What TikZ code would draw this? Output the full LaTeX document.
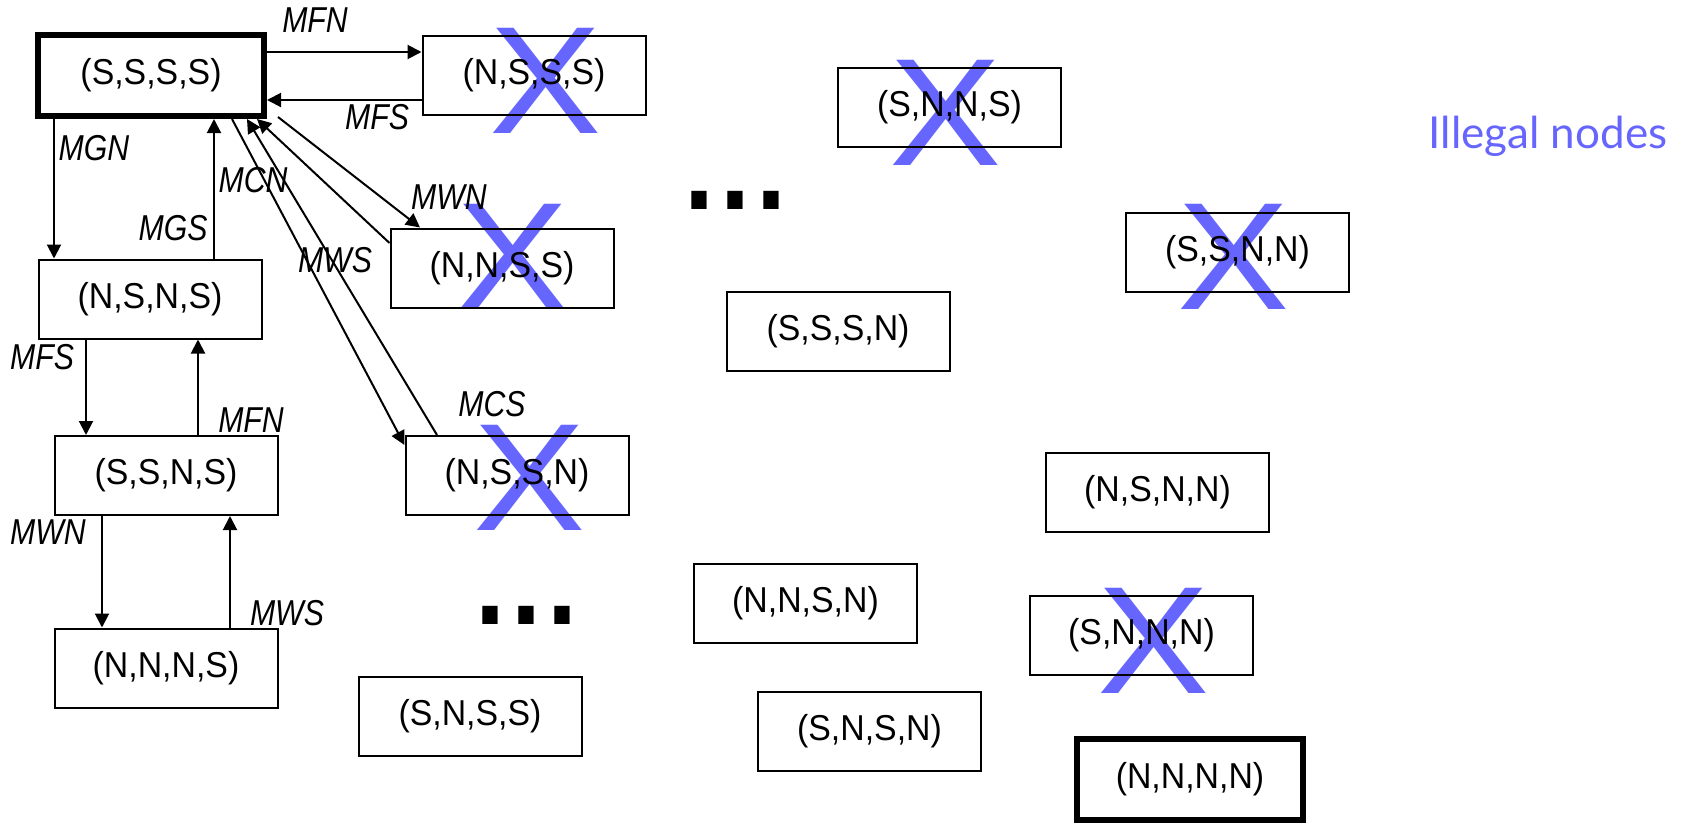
\documentclass[tikz,border=0pt]{standalone}
\usepackage{fontspec}
\usepackage{graphicx}
\usetikzlibrary{arrows.meta}
\newfontfamily\boxfont[FakeStretch=0.94]{Liberation Sans}
\newfontfamily\lblfont[FakeStretch=0.84]{Liberation Sans}
\newfontfamily\crossfont{Liberation Sans}
\newfontfamily\illfont{Lato}
\definecolor{xblue}{RGB}{102,102,255}
\tikzset{
  st/.style={draw, line width=2pt, minimum width=223pt, minimum height=79pt, inner sep=0pt,
    font=\boxfont\fontsize{36}{40}\selectfont},
  stthick/.style={st, line width=6pt, minimum width=226pt, minimum height=81pt},
  lbl/.style={inner sep=0pt, font=\lblfont\itshape\fontsize{36}{40}\selectfont},
  arr/.style={line width=2pt, -{Triangle[length=14pt,width=14pt]}},
  xmark/.style={inner sep=0pt, text=xblue, font=\crossfont\fontsize{153}{153}\selectfont},
  dotsmark/.style={inner sep=0pt, font=\crossfont\bfseries\fontsize{108}{108}\selectfont},
}
\begin{document}
\begin{tikzpicture}[x=1pt,y=-1pt]
\useasboundingbox (0,0) rectangle (1681,822);
% illegal marks (behind)
\node[xmark] (x1) at (546,80.5) {\scalebox{1.1}[1]{X}};
\node[xmark] (x2) at (513,257) {\scalebox{1.1}[1]{X}};
\node[xmark] (x3) at (530,477.5) {\scalebox{1.1}[1]{X}};
\node[xmark] (x4) at (946,112.5) {\scalebox{1.1}[1]{X}};
\node[xmark] (x5) at (1234,257) {\scalebox{1.1}[1]{X}};
\node[xmark] (x6) at (1154,641) {\scalebox{1.1}[1]{X}};
% states
\node[stthick] (ssss) at (151,75.5) {(S,S,S,S)};
\node[st] (nsss) at (534,75.5) {(N,S,S,S)};
\node[st] (nsns) at (150,299) {(N,S,N,S)};
\node[st] (nnss) at (502,268) {(N,N,S,S)};
\node[st] (ssns) at (166,475.5) {(S,S,N,S)};
\node[st] (nssn) at (517,475.5) {(N,S,S,N)};
\node[st] (nnns) at (166,668) {(N,N,N,S)};
\node[st] (snss) at (470,716) {(S,N,S,S)};
\node[st] (snns) at (949.5,107.5) {(S,N,N,S)};
\node[st] (ssnn) at (1237.5,252) {(S,S,N,N)};
\node[st] (sssn) at (838,331.5) {(S,S,S,N)};
\node[st] (nsnn) at (1157.5,492) {(N,S,N,N)};
\node[st] (nnsn) at (805.5,603.5) {(N,N,S,N)};
\node[st] (snnn) at (1141.5,635.5) {(S,N,N,N)};
\node[st] (snsn) at (869.5,731.5) {(S,N,S,N)};
\node[stthick] (nnnn) at (1190,779) {(N,N,N,N)};
% ellipses
\node[dotsmark] (dots1) at (735.5,200) {\scalebox{1}[1.13]{.\hspace{6pt}.\hspace{6pt}.}};
\node[dotsmark] (dots2) at (526.5,615.5) {\scalebox{1}[1.13]{.\hspace{6pt}.\hspace{6pt}.}};
% legend
\node[inner sep=0pt, anchor=base, text=xblue, font=\illfont\fontsize{44}{48}\selectfont] (ill) at (1548,148) {Illegal nodes};
% connectors
\draw[arr] ([yshift=23.5pt]ssss.east) -- ([yshift=23.5pt]nsss.west);
\draw[arr] ([yshift=-24.5pt]nsss.west) -- ([yshift=-24.5pt]ssss.east);
\draw[arr] ([xshift=-97pt]ssss.south) -- ([xshift=-97pt]ssss.south |- nsns.north);
\draw[arr] ([xshift=63pt]ssss.south |- nsns.north) -- ([xshift=63pt]ssss.south);
\draw[arr] ([xshift=-80pt]ssns.north |- nsns.south) -- ([xshift=-80pt]ssns.north);
\draw[arr] ([xshift=32pt]ssns.north) -- ([xshift=32pt]ssns.north |- nsns.south);
\draw[arr] ([xshift=-64pt]ssns.south) -- ([xshift=-64pt]ssns.south |- nnns.north);
\draw[arr] ([xshift=64pt]ssns.south |- nnns.north) -- ([xshift=64pt]ssns.south);
\draw[arr] ([xshift=81pt]ssss.south) -- ([yshift=30.5pt]nssn.west);
\draw[arr] ([xshift=-80pt]nssn.north) -- ([xshift=96pt]ssss.south);
\draw[arr] ([yshift=25pt]nnss.west) -- ([xshift=106pt]ssss.south);
\draw[arr] ([xshift=11pt,yshift=2pt]ssss.south east) -- ([xshift=-82pt]nnss.north);
% labels
\node[lbl] (l1) at (315,20) {MFN};
\node[lbl] (l2) at (377,117) {MFS};
\node[lbl] (l3) at (94,148) {MGN};
\node[lbl] (l4) at (173,228) {MGS};
\node[lbl] (l5) at (253,180) {MCN};
\node[lbl] (l6) at (335,260) {MWS};
\node[lbl] (l7) at (449,197) {MWN};
\node[lbl] (l8) at (492,404) {MCS};
\node[lbl] (l9) at (42,357) {MFS};
\node[lbl] (l10) at (251,420) {MFN};
\node[lbl] (l11) at (48,532) {MWN};
\node[lbl] (l12) at (287,613) {MWS};
\end{tikzpicture}
\end{document}
